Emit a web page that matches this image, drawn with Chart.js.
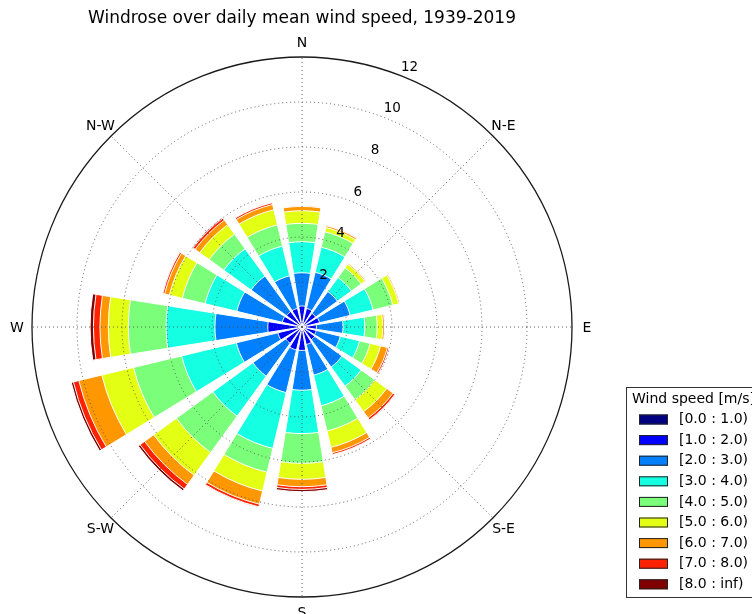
<!DOCTYPE html>
<html>
<head>
<meta charset="utf-8">
<script src="https://cdn.jsdelivr.net/npm/chart.js@4/dist/chart.umd.min.js"></script>
<style>
html,body{margin:0;padding:0;background:#fff;overflow:hidden;}
#wrap{position:relative;width:752px;height:614px;}
</style>
</head>
<body>
<div id="wrap"><canvas id="c" width="752" height="614"></canvas></div>
<script>
// ---- data (frequency in % per direction and speed bin) ----
const directions = ['N','NNE','NE','ENE','E','ESE','SE','SSE','S','SSW','SW','WSW','W','WNW','NW','NNW'];
const compassLabels = ['N','N-E','E','S-E','S','S-W','W','N-W'];
const speedBins = ['[0.0 : 1.0)','[1.0 : 2.0)','[2.0 : 3.0)','[3.0 : 4.0)','[4.0 : 5.0)','[5.0 : 6.0)','[6.0 : 7.0)','[7.0 : 8.0)','[8.0 : inf)'];
const speedColors = ['#000080','#0000ff','#0080ff','#15ffe2','#7bff7b','#e2ff14','#ff9700','#ff2200','#800000'];
const radialTicks = [2,4,6,8,10,12];
const chartTitle = 'Windrose over daily mean wind speed, 1939-2019';
const legendTitle = 'Wind speed [m/s]';

const bin0 = [0.15,0.15,0.12,0.12,0.10,0.10,0.10,0.10,0.10,0.10,0.10,0.12,0.20,0.12,0.12,0.12];
const bin1 = [0.78,0.70,0.63,0.68,0.54,0.55,0.60,0.70,0.94,0.95,0.80,0.98,1.32,0.78,0.73,0.73];
const bin2 = [1.48,1.65,1.20,1.40,1.18,1.10,1.50,1.40,1.77,1.95,1.80,1.90,2.35,2.08,1.95,1.49];
const bin3 = [1.38,1.15,0.77,1.05,0.97,0.88,1.05,1.40,1.93,2.55,2.20,2.50,2.17,1.45,1.50,1.36];
const bin4 = [0.82,0.70,0.53,0.90,0.55,0.48,0.75,1.15,1.32,1.09,2.00,2.20,1.68,1.04,0.80,0.97];
const bin5 = [0.56,0.20,0.20,0.27,0.25,0.48,0.65,0.75,0.71,0.86,1.25,1.45,0.89,0.59,0.52,0.69];
const bin6 = [0.19,0.08,0.05,0.05,0.08,0.31,0.35,0.25,0.33,0.60,0.50,1.05,0.37,0.22,0.25,0.24];
const bin7 = [0.02,0.02,0.00,0.01,0.02,0.07,0.10,0.08,0.12,0.12,0.25,0.25,0.29,0.08,0.11,0.08];
const bin8 = [0.01,0.00,0.00,0.00,0.00,0.01,0.02,0.02,0.10,0.03,0.10,0.10,0.15,0.02,0.04,0.02];

const bins = [bin0,bin1,bin2,bin3,bin4,bin5,bin6,bin7,bin8];

// stacked (cumulative) values; each direction is followed by an empty gap slot
const labels = [];
directions.forEach(d => { labels.push(d); labels.push(''); });
const running = directions.map(() => 0);
const datasets = bins.map((b, k) => {
  const data = [];
  b.forEach((v, i) => { running[i] += v; data.push(running[i]); data.push(0); });
  return {
    label: speedBins[k],
    data: data,
    backgroundColor: ctx => ctx.dataIndex % 2 ? 'rgba(0,0,0,0)' : speedColors[k],
    borderColor: '#ffffff',
    borderWidth: ctx => ctx.dataIndex % 2 ? 0 : 1,
    angle: ctx => ctx.dataIndex % 2 ? 4.5 : 18
  };
});

Chart.defaults.font.family = "'DejaVu Sans', sans-serif";
Chart.defaults.color = '#000';

const BAR_DEG = 18;

const decor = {
  id: 'decor',
  afterDatasetsDraw(chart) {
    const s = chart.scales.r, ctx = chart.ctx;
    const cx = s.xCenter, cy = s.yCenter;
    const R = s.getDistanceFromCenterForValue(s.max);
    ctx.save();
    ctx.strokeStyle = 'rgba(70,70,70,0.85)';
    ctx.lineWidth = 1;
    ctx.setLineDash([1, 3]);
    radialTicks.forEach(v => {
      if (v >= s.max) return;
      const r = s.getDistanceFromCenterForValue(v);
      ctx.beginPath(); ctx.arc(cx, cy, r, 0, Math.PI * 2); ctx.stroke();
    });
    for (let k = 0; k < 8; k++) {
      const a = k * Math.PI / 4;
      ctx.beginPath(); ctx.moveTo(cx, cy);
      ctx.lineTo(cx + R * Math.sin(a), cy - R * Math.cos(a)); ctx.stroke();
    }
    ctx.setLineDash([]);
    ctx.strokeStyle = '#1a1a1a'; ctx.lineWidth = 1.3;
    ctx.beginPath(); ctx.arc(cx, cy, R, 0, Math.PI * 2); ctx.stroke();
    // radial tick labels along 22.5 deg
    ctx.fillStyle = '#000';
    ctx.font = "13.5px 'DejaVu Sans'";
    ctx.textAlign = 'center'; ctx.textBaseline = 'middle';
    const ta = 22.5 * Math.PI / 180;
    radialTicks.forEach(v => {
      const r = s.getDistanceFromCenterForValue(v) + 11;
      ctx.fillText(String(v), cx + r * Math.sin(ta), cy - r * Math.cos(ta));
    });
    // compass labels
    ctx.font = "14px 'DejaVu Sans'";
    compassLabels.forEach((t, k) => {
      const a = k * Math.PI / 4;
      const r = R + 15;
      ctx.fillText(t, cx + r * Math.sin(a), cy - r * Math.cos(a) + 1);
    });
    ctx.restore();
  }
};

const windLegend = {
  id: 'windLegend',
  afterDraw(chart) {
    const ctx = chart.ctx;
    const x0 = 626.5, y0 = 387.5, w = 150, h = 210;
    ctx.save();
    ctx.strokeStyle = '#333'; ctx.lineWidth = 1;
    ctx.strokeRect(x0, y0, w, h);
    ctx.fillStyle = '#000';
    ctx.font = "14px 'DejaVu Sans'";
    ctx.textAlign = 'left'; ctx.textBaseline = 'middle';
    ctx.fillText(legendTitle, 632, 399);
    chart.data.datasets.forEach((ds, k) => {
      const yc = 419.5 + k * 20.6;
      ctx.fillStyle = speedColors[k];
      ctx.fillRect(639, yc - 5, 29, 10);
      ctx.strokeStyle = '#222';
      ctx.strokeRect(639.5, yc - 4.5, 28, 9);
      ctx.fillStyle = '#000';
      ctx.fillText(ds.label, 679, yc);
    });
    ctx.restore();
  }
};

new Chart(document.getElementById('c'), {
  type: 'polarArea',
  data: { labels: labels, datasets: datasets },
  options: {
    responsive: false,
    animation: false,
    layout: { padding: { left: 32, right: 180, top: 0, bottom: 17 } },
    scales: {
      r: {
        min: 0, max: 12,
        startAngle: -BAR_DEG / 2,
        ticks: { display: false, stepSize: 2 },
        grid: { display: false },
        angleLines: { display: false },
        pointLabels: { display: false }
      }
    },
    plugins: {
      legend: { display: false },
      tooltip: { enabled: false },
      title: {
        display: true, text: chartTitle,
        font: { size: 17, weight: 'normal' }, color: '#000',
        padding: { top: 8, bottom: 28.6 }
      }
    }
  },
  plugins: [decor, windLegend]
});
</script>
</body>
</html>
